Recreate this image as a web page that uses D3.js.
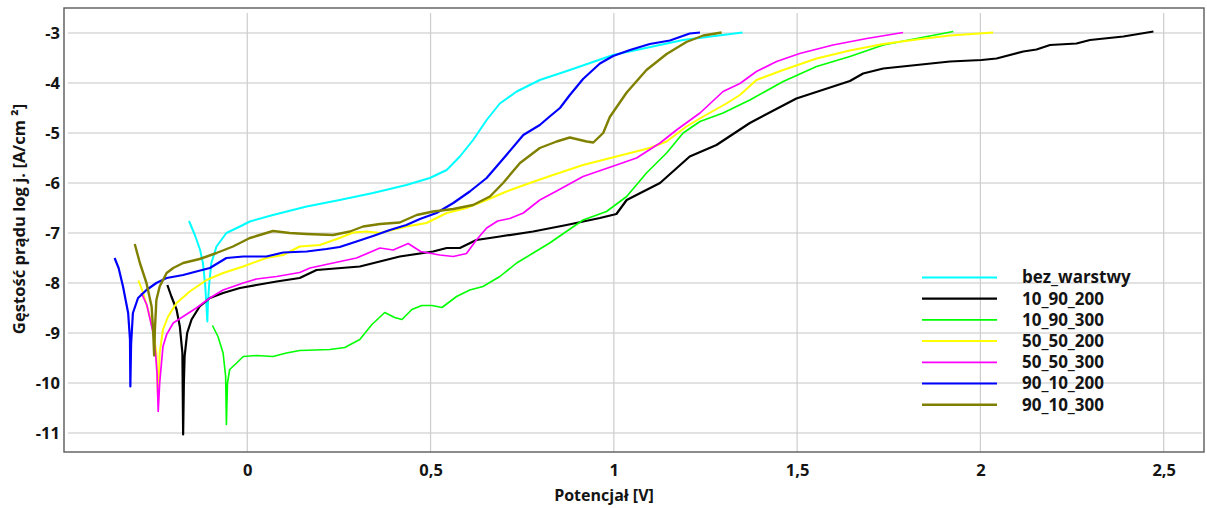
<!DOCTYPE html>
<html>
<head>
<meta charset="utf-8">
<script src="https://cdn.jsdelivr.net/npm/d3@7"></script>
<style>
  html, body { margin: 0; padding: 0; background: #fff; }
  svg { display: block; }
  text { font-family: "Open Sans", "Noto Sans", sans-serif; font-weight: bold; fill: #141414; }
</style>
</head>
<body>
<svg id="chart" width="1207" height="508"></svg>
<script>
// Polarisation curves: potential [V] vs log of current density
const xTicks = [0, 0.5, 1, 1.5, 2, 2.5];
const yTicks = [-3, -4, -5, -6, -7, -8, -9, -10, -11];

const seriesNames = ["bez_warstwy", "10_90_200", "10_90_300", "50_50_200", "50_50_300", "90_10_200", "90_10_300"];
const seriesColors = ["#00ffff", "#000000", "#00ff00", "#ffff00", "#ff00ff", "#0000ff", "#808000"];
const seriesWidths = [2, 2.2, 1.6, 2, 1.7, 2.2, 2.4];

// [potential, log j]
const bezWarstwy = [
  [-0.159, -6.76], [-0.143, -7.04], [-0.129, -7.33], [-0.121, -7.60], [-0.115, -8.03], [-0.111, -8.50], [-0.109, -8.77],
  [-0.107, -8.34], [-0.103, -7.95], [-0.098, -7.60], [-0.084, -7.27], [-0.057, -7.00], [-0.020, -6.87],
  [0.007, -6.77], [0.070, -6.64], [0.162, -6.47], [0.252, -6.34], [0.343, -6.20], [0.434, -6.04],
  [0.498, -5.90], [0.544, -5.74], [0.580, -5.47], [0.616, -5.14], [0.653, -4.74], [0.689, -4.41],
  [0.735, -4.17], [0.798, -3.94], [0.880, -3.74], [0.998, -3.44], [1.189, -3.14], [1.351, -2.99]
];
const s10_90_200 = [
  [-0.218, -8.04], [-0.207, -8.27], [-0.193, -8.53], [-0.184, -8.87], [-0.177, -9.40], [-0.176, -10.2], [-0.175, -11.03],
  [-0.173, -10.0], [-0.171, -9.47], [-0.164, -9.00], [-0.152, -8.73], [-0.130, -8.47], [-0.102, -8.30],
  [-0.066, -8.20], [-0.020, -8.10], [0.025, -8.04], [0.080, -7.97], [0.143, -7.90], [0.189, -7.74],
  [0.307, -7.67], [0.416, -7.47], [0.507, -7.37], [0.544, -7.30], [0.580, -7.30], [0.625, -7.14],
  [0.689, -7.07], [0.780, -6.97], [0.871, -6.84], [0.962, -6.70], [1.007, -6.62], [1.035, -6.34],
  [1.126, -6.00], [1.207, -5.47], [1.280, -5.24], [1.371, -4.80], [1.498, -4.31], [1.644, -3.96],
  [1.680, -3.81], [1.735, -3.71], [1.826, -3.64], [1.917, -3.57], [2.003, -3.54], [2.044, -3.51],
  [2.117, -3.37], [2.153, -3.33], [2.190, -3.24], [2.262, -3.21], [2.299, -3.14], [2.390, -3.07], [2.472, -2.97]
];
const s10_90_300 = [
  [-0.095, -8.85], [-0.080, -9.07], [-0.066, -9.40], [-0.059, -9.87], [-0.057, -10.83],
  [-0.054, -10.0], [-0.048, -9.73], [-0.029, -9.60], [-0.011, -9.47], [0.025, -9.45], [0.070, -9.47],
  [0.107, -9.40], [0.143, -9.35], [0.225, -9.33], [0.266, -9.29], [0.307, -9.13], [0.340, -8.83],
  [0.375, -8.59], [0.402, -8.69], [0.422, -8.73], [0.449, -8.53], [0.476, -8.45], [0.504, -8.45],
  [0.531, -8.49], [0.571, -8.27], [0.607, -8.14], [0.643, -8.07], [0.689, -7.87], [0.735, -7.60],
  [0.780, -7.40], [0.825, -7.20], [0.916, -6.74], [0.980, -6.57], [1.035, -6.27], [1.089, -5.80],
  [1.144, -5.40], [1.189, -5.00], [1.235, -4.77], [1.298, -4.60], [1.371, -4.34], [1.462, -3.97],
  [1.553, -3.67], [1.644, -3.47], [1.735, -3.24], [1.826, -3.11], [1.926, -2.97]
];
const s50_50_200 = [
  [-0.297, -7.95], [-0.284, -8.20], [-0.271, -8.53], [-0.257, -8.93], [-0.248, -9.40], [-0.243, -10.39],
  [-0.239, -9.40], [-0.230, -8.93], [-0.216, -8.67], [-0.193, -8.40], [-0.157, -8.17], [-0.111, -7.94],
  [-0.066, -7.80], [-0.011, -7.67], [0.052, -7.50], [0.098, -7.44], [0.143, -7.27], [0.198, -7.24],
  [0.252, -7.10], [0.289, -6.99], [0.325, -6.97], [0.362, -7.00], [0.434, -6.87], [0.489, -6.80],
  [0.544, -6.60], [0.598, -6.50], [0.653, -6.34], [0.707, -6.17], [0.771, -6.00], [0.834, -5.84],
  [0.916, -5.64], [1.007, -5.47], [1.098, -5.30], [1.144, -5.17], [1.198, -4.87], [1.244, -4.67],
  [1.307, -4.41], [1.344, -4.24], [1.389, -3.94], [1.462, -3.74], [1.553, -3.51], [1.644, -3.35],
  [1.735, -3.22], [1.826, -3.13], [1.917, -3.05], [2.035, -2.99]
];
const s50_50_300 = [
  [-0.289, -8.20], [-0.274, -8.44], [-0.265, -8.73], [-0.256, -9.03], [-0.250, -9.43], [-0.246, -9.83], [-0.243, -10.57],
  [-0.239, -10.0], [-0.230, -9.27], [-0.220, -9.03], [-0.202, -8.80], [-0.175, -8.67], [-0.139, -8.50],
  [-0.102, -8.30], [-0.066, -8.14], [-0.011, -8.00], [0.025, -7.92], [0.080, -7.87], [0.143, -7.79],
  [0.171, -7.70], [0.234, -7.60], [0.298, -7.50], [0.362, -7.30], [0.398, -7.34], [0.439, -7.21],
  [0.473, -7.37], [0.525, -7.44], [0.562, -7.47], [0.598, -7.41], [0.625, -7.14], [0.653, -6.90],
  [0.683, -6.76], [0.716, -6.71], [0.753, -6.60], [0.798, -6.34], [0.844, -6.16], [0.916, -5.87],
  [1.007, -5.64], [1.062, -5.50], [1.126, -5.20], [1.171, -4.94], [1.235, -4.60], [1.298, -4.17],
  [1.344, -4.01], [1.389, -3.77], [1.444, -3.57], [1.507, -3.41], [1.598, -3.24], [1.690, -3.11], [1.789, -2.99]
];
const s90_10_200 = [
  [-0.362, -7.50], [-0.351, -7.70], [-0.339, -8.07], [-0.325, -8.60], [-0.320, -9.13], [-0.319, -10.07],
  [-0.317, -9.23], [-0.312, -8.60], [-0.298, -8.30], [-0.275, -8.14], [-0.248, -8.00], [-0.220, -7.90],
  [-0.175, -7.84], [-0.139, -7.77], [-0.102, -7.70], [-0.057, -7.50], [-0.011, -7.47], [0.052, -7.47],
  [0.098, -7.39], [0.162, -7.37], [0.216, -7.32], [0.252, -7.28], [0.298, -7.17], [0.343, -7.06],
  [0.389, -6.94], [0.434, -6.84], [0.471, -6.72], [0.516, -6.60], [0.562, -6.40], [0.607, -6.17],
  [0.653, -5.90], [0.680, -5.67], [0.707, -5.44], [0.753, -5.04], [0.798, -4.84], [0.825, -4.67],
  [0.853, -4.50], [0.880, -4.24], [0.916, -3.92], [0.962, -3.61], [0.998, -3.46], [1.044, -3.34],
  [1.098, -3.22], [1.153, -3.15], [1.207, -3.01], [1.235, -2.99]
];
const s90_10_300 = [
  [-0.307, -7.22], [-0.293, -7.60], [-0.275, -8.00], [-0.261, -8.47], [-0.257, -8.93], [-0.254, -9.45],
  [-0.252, -8.93], [-0.248, -8.34], [-0.239, -8.07], [-0.220, -7.80], [-0.202, -7.70], [-0.175, -7.60],
  [-0.130, -7.52], [-0.084, -7.40], [-0.039, -7.27], [0.007, -7.10], [0.025, -7.06], [0.070, -6.96],
  [0.116, -7.00], [0.162, -7.02], [0.234, -7.04], [0.280, -6.97], [0.316, -6.87], [0.362, -6.82],
  [0.416, -6.79], [0.462, -6.64], [0.507, -6.57], [0.562, -6.52], [0.616, -6.44], [0.662, -6.27],
  [0.698, -6.00], [0.744, -5.60], [0.798, -5.30], [0.844, -5.17], [0.880, -5.09], [0.926, -5.17],
  [0.944, -5.19], [0.971, -5.00], [0.989, -4.68], [1.035, -4.19], [1.089, -3.74], [1.144, -3.42],
  [1.198, -3.18], [1.244, -3.05], [1.294, -2.99]
];
const seriesData = [bezWarstwy, s10_90_200, s10_90_300, s50_50_200, s50_50_300, s90_10_200, s90_10_300];

const svg = d3.select("#chart");
const plot = { left: 64, right: 1204, top: 8, bottom: 452 };

const x = d3.scaleLinear().domain([-0.5, 2.61]).range([plot.left, plot.right]);
const y = d3.scaleLinear().domain([-2.5, -11.38]).range([plot.top, plot.bottom]);

// grid
const grid = svg.append("g");
grid.selectAll("line.h").data(yTicks).join("line")
  .attr("x1", plot.left + 4).attr("x2", plot.right - 2)
  .attr("y1", d => y(d)).attr("y2", d => y(d))
  .attr("stroke", "#d9d9d9").attr("stroke-width", 1.6);
grid.selectAll("line.v").data(xTicks).join("line")
  .attr("x1", d => x(d)).attr("x2", d => x(d))
  .attr("y1", plot.top + 5).attr("y2", plot.bottom)
  .attr("stroke", "#cdcdcd").attr("stroke-width", 1.2);

// frame
svg.append("rect")
  .attr("x", plot.left).attr("y", plot.top)
  .attr("width", plot.right - plot.left).attr("height", plot.bottom - plot.top)
  .attr("fill", "none").attr("stroke", "#5a5a5a").attr("stroke-width", 1.4);

// axes
const yAxis = d3.axisLeft(y).tickValues(yTicks).tickSize(0).tickPadding(4).tickFormat(d => String(d));
const gy = svg.append("g").attr("transform", `translate(${plot.left},0)`).call(yAxis);
gy.select(".domain").remove();
gy.selectAll("text").style("font-size", "16.5px").attr("dy", "0.34em");

const xAxis = d3.axisBottom(x).tickValues(xTicks).tickSize(0).tickPadding(12).tickFormat(d => String(d).replace(".", ","));
const gx = svg.append("g").attr("transform", `translate(0,${plot.bottom})`).call(xAxis);
gx.select(".domain").remove();
gx.selectAll("text").style("font-size", "16.5px");

// axis titles
svg.append("text")
  .attr("x", 604).attr("y", 501)
  .attr("text-anchor", "middle").style("font-size", "16px")
  .text("Potencjał [V]");
svg.append("text")
  .attr("transform", "translate(25,219) rotate(-90)")
  .attr("text-anchor", "middle").style("font-size", "16.6px")
  .text("Gęstość prądu log j. [A/cm ²]");

// curves
const line = d3.line().x(d => x(d[0])).y(d => y(d[1]));
svg.append("g").selectAll("path").data(seriesData).join("path")
  .attr("d", line)
  .attr("fill", "none")
  .attr("stroke", (d, i) => seriesColors[i])
  .attr("stroke-width", (d, i) => seriesWidths[i])
  .attr("stroke-linejoin", "round");

// legend
const legend = svg.append("g").attr("transform", "translate(922,277.5)");
const rows = legend.selectAll("g").data(seriesNames).join("g")
  .attr("transform", (d, i) => `translate(0,${i * 21.2})`);
rows.append("line")
  .attr("x1", 0).attr("x2", 75)
  .attr("stroke", (d, i) => seriesColors[i])
  .attr("stroke-width", (d, i) => seriesWidths[i]);
rows.append("text")
  .attr("x", 100).attr("dy", "0.35em")
  .style("font-size", "17px")
  .text(d => d);
</script>
</body>
</html>
